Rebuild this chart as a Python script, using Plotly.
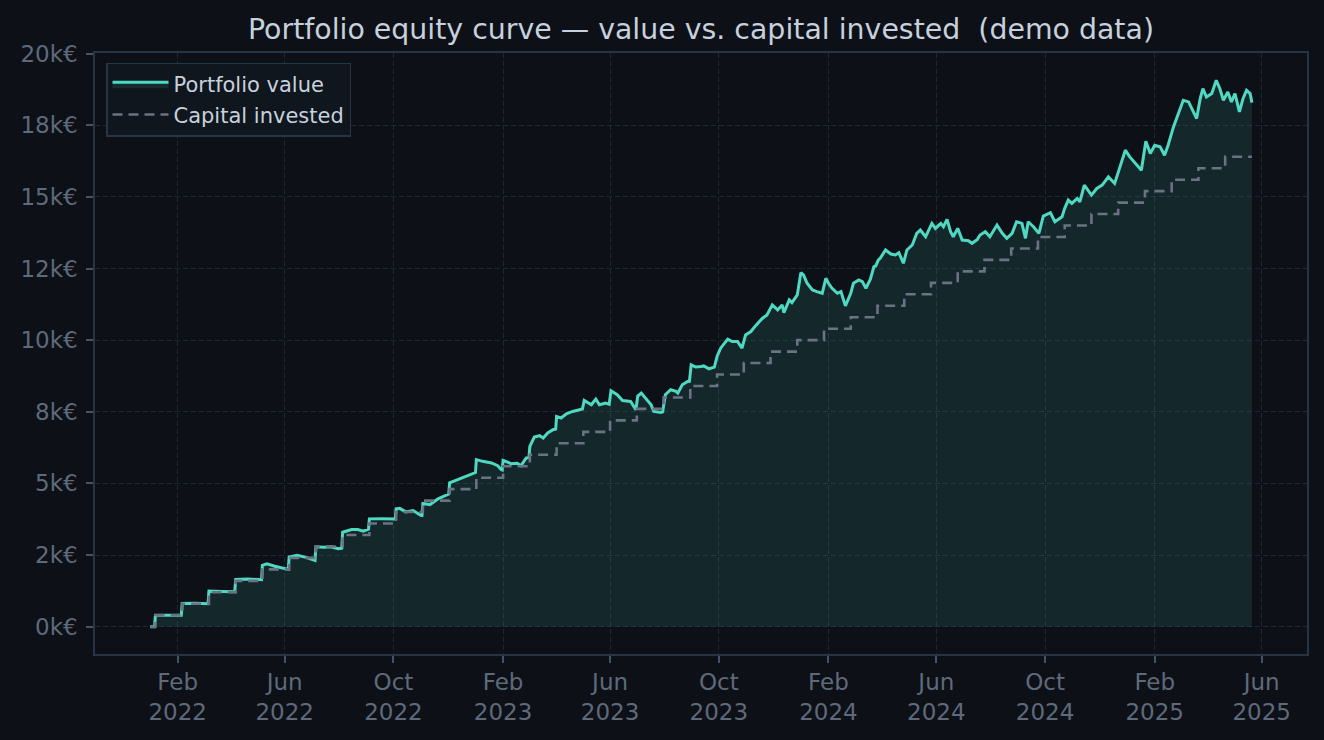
############################################################################

# Portfolio equity curve: value vs. capital invested (demo data)

############################################################################

# Required Libraries
import pandas as pd
import plotly.graph_objects as go

############################################################################

# Data (days counted from the start date)
start_date = '2022-01-01'

value_days = [   0,    5,    6,   20,   35,   36,   50,   65,   66,   80,
                95,   96,  110,  125,  126,  131,  140,  155,  156,  165,
               175,  185,  186,  195,  203,  211,  215,  216,  226,  233,
               239,  245,  246,  260,  275,  276,  280,  287,  295,  304,
               305,  306,  314,  323,  332,  335,  336,  345,  353,  364,
               365,  366,  373,  383,  390,  394,  395,  396,  405,  412,
               416,  422,  425,  426,  431,  437,  441,  446,  452,  455,
               456,  461,  467,  474,  483,  485,  487,  495,  500,  504,
               511,  515,  517,  524,  530,  539,  545,  547,  551,  556,
               562,  565,  573,  575,  578,  584,  590,  592,  597,  603,
               605,  607,  612,  618,  621,  627,  633,  636,  640,  648,
               653,  659,  664,  668,  674,  679,  687,  692,  698,  704,
               709,  711,  717,  720,  726,  730,  733,  737,  743,  748,
               754,  758,  761,  765,  771,  775,  780,  786,  789,  795,
               799,  803,  808,  812,  814,  817,  819,  825,  831,  836,
               840,  845,  849,  855,  860,  864,  870,  877,  881,  887,
               890,  894,  898,  901,  906,  911,  918,  922,  928,  931,
               937,  942,  950,  956,  961,  967,  972,  978,  982,  985,
               991,  997, 1002, 1010, 1015, 1023, 1026, 1030, 1034, 1040,
              1043, 1048, 1053, 1056, 1062, 1068, 1075, 1079, 1082, 1088,
              1094, 1099, 1105, 1112, 1117, 1122, 1127, 1133, 1138, 1142,
              1148, 1153, 1159, 1165, 1170, 1174, 1178, 1181, 1185, 1191,
              1196, 1200, 1204, 1209, 1213, 1217, 1222, 1226, 1230, 1234,
              1236]

portfolio_value = [    0,     0,   400,   410,   395,   810,   820,   800,  1240,  1230,
                    1220,  1650,  1660,  1640,  2140,  2195,  2110,  2000,  2430,  2490,
                    2420,  2310,  2790,  2770,  2787,  2718,  2740,  3296,  3390,  3390,
                    3331,  3400,  3763,  3770,  3760,  4111,  4130,  4006,  4052,  3878,
                    3880,  4296,  4261,  4460,  4609,  4630,  5017,  5132,  5247,  5365,
                    5380,  5829,  5770,  5714,  5620,  5480,  5470,  5804,  5690,  5700,
                    5620,  5888,  5900,  6292,  6620,  6665,  6585,  6759,  6874,  6900,
                    7337,  7282,  7431,  7512,  7595,  7600,  7895,  7745,  7944,  7745,
                    7804,  7760,  8233,  8093,  7895,  7860,  7571,  8050,  8152,  7978,
                    7745,  7512,  7477,  7500,  8093,  8268,  8210,  8152,  8442,  8557,
                    8560,  9139,  9060,  9080,  9100,  9000,  9059,  9428,  9720, 10034,
                    9950,  9950,  9720, 10184, 10300, 10497, 10766, 10881, 11230, 11055,
                   11230, 10963, 11404, 11310, 11577, 12355, 12274, 11985, 11752, 11694,
                   11636, 12159, 11985, 11811, 11636, 11694, 11194, 11636, 11985, 12100,
                   12041, 11811, 12130, 12563, 12588, 12797, 12856, 13145, 13006, 12971,
                   13052, 12682, 13145, 13320, 13727, 13842, 13608, 14075, 13900, 14075,
                   13958, 14214, 13783, 13608, 13900, 13494, 13470, 13379, 13517, 13668,
                   13783, 13608, 14016, 13727, 13553, 13727, 14131, 14075, 13553, 14131,
                   13958, 13727, 14330, 14446, 14131, 14305, 14600, 14888, 14772, 14946,
                   14830, 15410, 15177, 15061, 15294, 15410, 15699, 15583, 15468, 16047,
                   16629, 16396, 16165, 15931, 16943, 16513, 16803, 16745, 16455, 16803,
                   17441, 17849, 18371, 18313, 17964, 17733, 18429, 18779, 18486, 18604,
                   19068, 18779, 18371, 18660, 18313, 18604, 17964, 18429, 18719, 18604,
                   18290]

capital_days = [   0,    6,   36,   66,   96,  126,  156,  186,  216,  246,
                 276,  306,  336,  366,  396,  426,  456,  486,  516,  546,
                 576,  606,  636,  666,  696,  726,  756,  786,  816,  846,
                 876,  906,  936,  966,  996, 1026, 1056, 1086, 1116, 1146,
                1176, 1206, 1236]

capital_invested = [    0,   400,   800,  1200,  1600,  2000,  2400,  2800,  3200,  3600,
                     4000,  4400,  4800,  5200,  5600,  6000,  6400,  6800,  7200,  7600,
                     8000,  8400,  8800,  9200,  9600, 10000, 10400, 10800, 11200, 11600,
                    12000, 12400, 12800, 13200, 13600, 14000, 14400, 14800, 15200, 15600,
                    16000, 16400, 16400]

x_tick_dates  = ['2022-02-01', '2022-06-01', '2022-10-01', '2023-02-01', '2023-06-01', '2023-10-01',
                 '2024-02-01', '2024-06-01', '2024-10-01', '2025-02-01', '2025-06-01']
x_tick_labels = ['Feb<br>2022', 'Jun<br>2022', 'Oct<br>2022', 'Feb<br>2023', 'Jun<br>2023', 'Oct<br>2023',
                 'Feb<br>2024', 'Jun<br>2024', 'Oct<br>2024', 'Feb<br>2025', 'Jun<br>2025']

y_tick_values = [0, 2500, 5000, 7500, 10000, 12500, 15000, 17500, 20000]
y_tick_labels = ['0k€', '2k€', '5k€', '8k€', '10k€', '12k€', '15k€', '18k€', '20k€']

############################################################################

# Styles
bg_color    = '#0d1017'
value_color = '#4fd9c2'
cap_color   = '#6a7383'
grid_color  = '#1c2834'
spine_color = '#263443'
tick_color  = '#5e6a7a'
text_color  = '#c6d1dd'
font_family = 'DejaVu Sans'

############################################################################

# Dates
t0            = pd.Timestamp(start_date)
value_dates   = t0 + pd.to_timedelta(value_days,   unit = 'D')
capital_dates = t0 + pd.to_timedelta(capital_days, unit = 'D')
t1            = value_dates.max()
pad           = (t1 - t0)*0.05
y_pad         = max(portfolio_value)*0.05

############################################################################

# Traces
v_trace = go.Scatter(x         = value_dates,
                     y         = portfolio_value,
                     mode      = 'lines',
                     line      = dict(color = value_color, width = 3),
                     fill      = 'tozeroy',
                     fillcolor = 'rgba(78, 220, 196, 0.115)',
                     hoverinfo = 'skip',
                     name      = 'Portfolio value'
                     )
c_trace = go.Scatter(x         = capital_dates,
                     y         = capital_invested,
                     mode      = 'lines',
                     line      = dict(color = cap_color, width = 2.6, dash = '10px,6px', shape = 'hv'),
                     hoverinfo = 'skip',
                     name      = 'Capital invested'
                     )

axis_style = dict(showgrid   = True,
                  gridcolor  = grid_color,
                  gridwidth  = 1,
                  griddash   = '5px,3px',
                  zeroline   = False,
                  showline   = True,
                  linecolor  = spine_color,
                  linewidth  = 1.5,
                  mirror     = True,
                  ticks      = 'outside',
                  ticklen    = 7,
                  tickwidth  = 1.5,
                  tickcolor  = '#475363',
                  tickmode   = 'array',
                  automargin = False,
                  tickfont   = dict(family = font_family, size = 23, color = tick_color)
                  )

layout = go.Layout(width         = 1324,
                   height        = 740,
                   showlegend    = True,
                   paper_bgcolor = bg_color,
                   plot_bgcolor  = bg_color,
                   margin        = dict(l = 95, r = 17, t = 53, b = 86, pad = 0, autoexpand = False),
                   font          = dict(family = font_family, size = 23, color = tick_color),
                   title         = dict(text    = 'Portfolio equity curve — value vs. capital invested \u00a0(demo data)',
                                        x       = 0.5,
                                        xref    = 'paper',
                                        xanchor = 'center',
                                        y       = 1 - 29/740,
                                        yref    = 'container',
                                        yanchor = 'middle',
                                        font    = dict(family = font_family, size = 28.4, color = text_color)
                                        ),
                   legend        = dict(x           = 11/1212,
                                        y           = 1 - 9.5/601,
                                        xanchor     = 'left',
                                        yanchor     = 'top',
                                        bgcolor     = '#10161e',
                                        bordercolor = spine_color,
                                        borderwidth = 1.5,
                                        itemwidth   = 56,
                                        font        = dict(family = font_family, size = 21, color = text_color)
                                        ),
                   xaxis         = dict(axis_style,
                                        type     = 'date',
                                        range    = [t0 - pad, t1 + pad],
                                        tickvals = x_tick_dates,
                                        ticktext = x_tick_labels
                                        ),
                   yaxis         = dict(axis_style,
                                        range             = [-y_pad, 20000 + y_pad*0.022],
                                        tickvals          = y_tick_values,
                                        ticktext          = y_tick_labels,
                                        ticklabelstandoff = 4
                                        )
                   )

fig = go.Figure(data = [v_trace, c_trace], layout = layout)
fig.write_html('out.html',
               config      = {'displayModeBar': False},
               post_script = "document.body.style.margin = '0';")

############################################################################
